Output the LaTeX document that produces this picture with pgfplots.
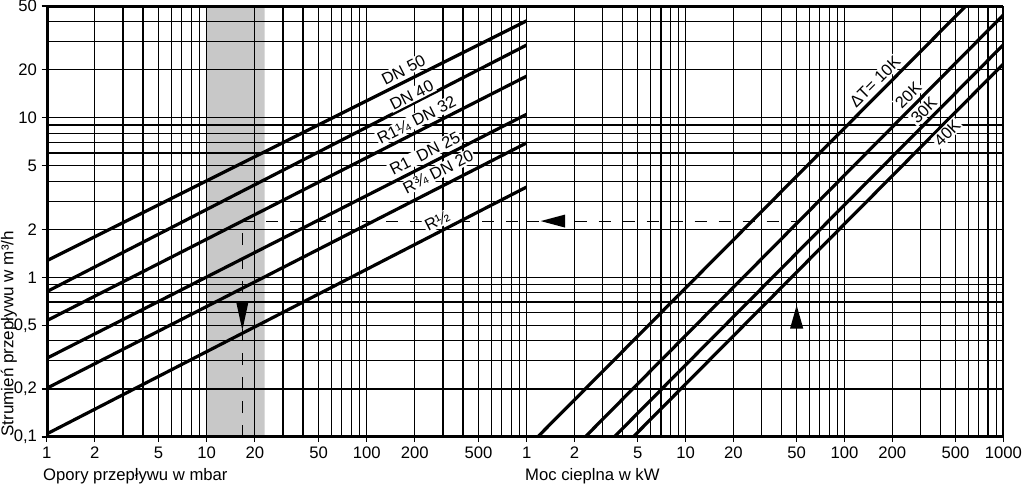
\documentclass[border=0pt]{standalone}
\usepackage{fontspec}
\setmainfont{Liberation Sans}
\usepackage{pgfplots}
\pgfplotsset{compat=1.18}
\definecolor{bandgray}{RGB}{200,200,200}
\tikzset{curve/.style={black, line width=2.4pt},
  dashln/.style={black, line width=0.75pt, dash pattern=on 9pt off 9pt},
  clab/.style={fill=white, inner sep=1pt, font=\fontsize{12.3}{14}\selectfont}}
\begin{document}
\begin{tikzpicture}
% ---------- background band (left panel) ----------
\begin{axis}[xmode=log, ymode=log, scale only axis, width=360pt, height=323.25pt,
  at={(0pt,0pt)}, anchor=south west,
  xmin=1, xmax=1000, ymin=0.1, ymax=50, hide axis]
\addplot[draw=none, fill=bandgray] coordinates {(10,0.1) (10,50) (23,50) (23,0.1) (10,0.1)};
\end{axis}
% ---------- left panel: pressure drop ----------
\begin{axis}[xmode=log, ymode=log, scale only axis, width=360pt, height=323.25pt,
  at={(0pt,0pt)}, anchor=south west,
  xmin=1, xmax=1000, ymin=0.1, ymax=50,
  grid=both,
  major grid style={black, line width=0.85pt},
  minor grid style={black, line width=0.85pt},
  xtick={1,2,5,10,20,50,100,200,500},
  xticklabels={1,2,5,10,20,50,100,200,500},
  minor xtick={3,4,6,7,8,9,30,40,60,70,80,90,300,400,600,700,800,900},
  ytick={0.1,0.2,0.5,1,2,5,10,20,50},
  yticklabels={{0,1},{0,2},{0,5},1,2,5,10,20,50},
  minor ytick={0.3,0.4,0.6,0.7,0.8,0.9,3,4,6,7,8,9,30,40},
  axis line style={draw=none},
  tick align=outside,
  xtick pos=bottom, ytick pos=left,
  major tick length=3.75pt, minor tick length=0pt,
  tick style={black, line width=0.85pt},
  tick label style={font=\fontsize{12.5}{14}\selectfont}]
% DN 50
\addplot[curve] coordinates {(1,1.27) (1000,40.4)};
% DN 40
\addplot[curve] coordinates {(1,0.813) (1000,28.5)};
% R1 1/4 DN 32
\addplot[curve] coordinates {(1,0.535) (1000,18.2)};
% R1 DN 25
\addplot[curve] coordinates {(1,0.311) (1000,10.5)};
% R3/4 DN 20
\addplot[curve] coordinates {(1,0.2018) (1000,6.95)};
% R1/2
\addplot[curve] coordinates {(1,0.1045) (1000,3.68)};
% reading example
\addplot[dashln] coordinates {(16.7,2.25) (1000,2.25)};
\addplot[dashln] coordinates {(16.7,0.1) (16.7,2.25)};
\addplot[draw=none, fill=black] coordinates {(15.28,0.702) (18.25,0.702) (16.7,0.466) (15.28,0.702)};
% curve labels
\node[clab, rotate=27] at (axis cs:170,19.9) {DN 50};
\node[clab, rotate=27] at (axis cs:191,13.8) {DN 40};
\node[clab, rotate=27] at (axis cs:205,9.64) {R1¼ DN 32};
\node[clab, rotate=27] at (axis cs:231,5.97) {R1\ \ DN 25};
\node[clab, rotate=27] at (axis cs:280,4.57) {R¾ DN 20};
\node[clab, rotate=27] at (axis cs:276,2.25) {R½};
% frame
\draw[black, line width=3pt] (rel axis cs:0,0) -- (rel axis cs:0,1);
\draw[black, line width=2.5pt] (rel axis cs:0,0) -- (rel axis cs:1,0);
\draw[black, line width=2.5pt] (rel axis cs:0,1) -- (rel axis cs:1,1);
\end{axis}
% ---------- right panel: heat output ----------
\begin{axis}[xmode=log, ymode=log, scale only axis, width=357.5pt, height=323.25pt,
  at={(360pt,0pt)}, anchor=south west,
  xmin=1, xmax=1000, ymin=0.1, ymax=50,
  grid=both,
  major grid style={black, line width=0.85pt},
  minor grid style={black, line width=0.85pt},
  xtick={1,2,5,10,20,50,100,200,500,1000},
  xticklabels={1,2,5,10,20,50,100,200,500,1000},
  minor xtick={3,4,6,7,8,9,30,40,60,70,80,90,300,400,600,700,800,900},
  ytick={0.1,0.2,0.5,1,2,5,10,20,50},
  yticklabels={},
  minor ytick={0.3,0.4,0.6,0.7,0.8,0.9,3,4,6,7,8,9,30,40},
  axis line style={draw=none},
  tick align=outside,
  xtick pos=bottom, ytick pos=left,
  major tick length=3.75pt, minor tick length=0pt,
  xtick style={black, line width=0.85pt},
  ytick style={draw=none},
  tick label style={font=\fontsize{12.5}{14}\selectfont}]
% dT = 10K
\addplot[curve] coordinates {(1.17,0.1) (580,50)};
% 20K
\addplot[curve] coordinates {(2.33,0.1) (1000,44)};
% 30K
\addplot[curve] coordinates {(3.55,0.1) (1000,28.6)};
% 40K
\addplot[curve] coordinates {(4.67,0.1) (1000,21.7)};
% reading example
\addplot[dashln] coordinates {(1,2.25) (50,2.25)};
\addplot[dashln] coordinates {(50,0.1) (50,2.25)};
\addplot[draw=none, fill=black] coordinates {(1.742,2.049) (1.742,2.471) (1.225,2.25) (1.742,2.049)};
\addplot[draw=none, fill=black] coordinates {(45.41,0.477) (55.06,0.477) (50,0.668) (45.41,0.477)};
% labels
\node[clab, rotate=45] at (axis cs:155.6,16.8) {ΔT= 10K};
\node[clab, rotate=45] at (axis cs:252,13.8) {20K};
\node[clab, rotate=45] at (axis cs:316,11.1) {30K};
\node[clab, rotate=45] at (axis cs:443,8.03) {40K};
% frame
\draw[black, line width=2.5pt] (rel axis cs:0,0) -- (rel axis cs:1,0);
\draw[black, line width=2.5pt] (rel axis cs:0,1) -- (rel axis cs:1,1);
\draw[black, line width=2.5pt] (rel axis cs:1,0) -- (rel axis cs:1,1);
\end{axis}
% axis titles
\node[anchor=base west, inner sep=0pt, font=\fontsize{12.5}{15}\selectfont] at (-2.8pt,-32.25pt) {Opory przepływu w mbar};
\node[anchor=base west, inner sep=0pt, font=\fontsize{12.5}{15}\selectfont] at (358.7pt,-32.25pt) {Moc cieplna w kW};
\node[rotate=90, anchor=base west, inner sep=0pt, font=\fontsize{12.8}{15}\selectfont] at (-25.05pt,0pt) {Strumień przepływu w m³/h};
\pgfresetboundingbox
\path (-35.025pt,-37.5pt) rectangle (732.225pt,327.75pt);
\end{tikzpicture}
\end{document}
